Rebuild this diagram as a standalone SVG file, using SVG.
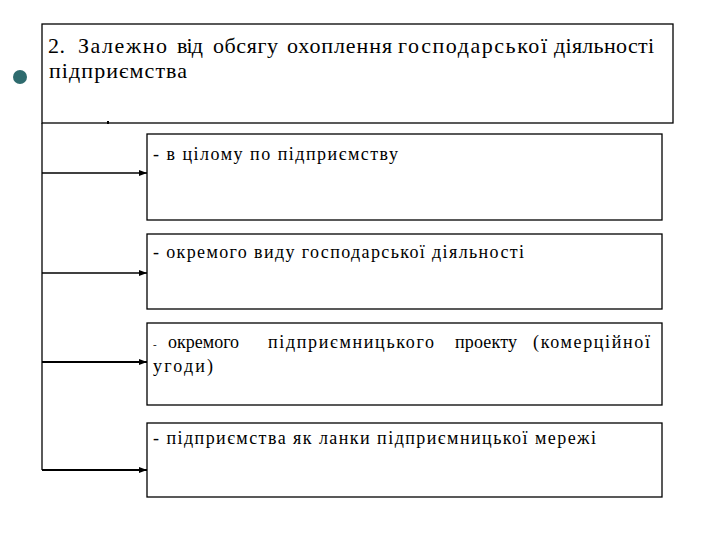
<svg xmlns="http://www.w3.org/2000/svg" width="720" height="540" viewBox="0 0 720 540">
<defs>
<style>
.box{fill:#fff;stroke:#000;stroke-width:1.3}
text{font-family:'Liberation Serif','Times New Roman','DejaVu Serif',serif;fill:#000}
.h{font-size:22px}
.b{font-size:18px}
.c{stroke:#000;fill:none}
</style>
<marker id="ah" viewBox="0 0 8 8" refX="8" refY="4" markerWidth="8" markerHeight="8" markerUnits="userSpaceOnUse" orient="auto">
<path d="M0,1 L8,4 L0,7 Z" fill="#000"/>
</marker>
</defs>
<rect width="720" height="540" fill="#fff"/>
<circle cx="20" cy="77" r="7" fill="#2e6b6e"/>
<g id="top">
<rect class="box" x="42" y="24" width="631" height="99"/>
<text class="h" y="53"><tspan x="48" textLength="17" lengthAdjust="spacing">2.</tspan><tspan x="78" textLength="89" lengthAdjust="spacing">Залежно</tspan><tspan x="177" textLength="26" lengthAdjust="spacing">від</tspan><tspan x="213" textLength="65" lengthAdjust="spacing">обсягу</tspan><tspan x="287" textLength="105" lengthAdjust="spacing">охоплення</tspan><tspan x="398" textLength="149" lengthAdjust="spacing">господарської</tspan><tspan x="554" textLength="100" lengthAdjust="spacing">діяльності</tspan></text>
<text class="h" x="49" y="78" textLength="138" lengthAdjust="spacing">підприємства</text>
</g>
<rect x="107" y="121" width="2" height="3" fill="#000"/>
<g id="connectors">
<path class="c" stroke-width="1.3" d="M42,123 V470"/>
<path class="c" stroke-width="1.3" d="M42,173 H147" marker-end="url(#ah)"/>
<path class="c" stroke-width="1.3" d="M42,273 H147" marker-end="url(#ah)"/>
<path class="c" stroke-width="2.2" d="M42,362 H147" marker-end="url(#ah)"/>
<path class="c" stroke-width="2.2" d="M42,470 H147" marker-end="url(#ah)"/>
</g>
<g id="n1">
<rect class="box" x="147" y="134" width="515" height="86"/>
<text class="b" x="153" y="160" textLength="245" lengthAdjust="spacing">- в цілому по підприємству</text>
</g>
<g id="n2">
<rect class="box" x="147" y="234" width="515" height="75"/>
<text class="b" x="153" y="258" textLength="371" lengthAdjust="spacing">- окремого виду господарської діяльності</text>
</g>
<g id="n3">
<rect class="box" x="147" y="323" width="515" height="82"/>
<text class="b" y="348"><tspan x="153" font-size="11">-</tspan><tspan x="168">окремого</tspan><tspan x="268" textLength="166" lengthAdjust="spacing">підприємницького</tspan><tspan x="455" textLength="62" lengthAdjust="spacing">проекту</tspan><tspan x="533" textLength="117" lengthAdjust="spacing">(комерційної</tspan></text>
<text class="b" x="153" y="372" textLength="60" lengthAdjust="spacing">угоди)</text>
</g>
<g id="n4">
<rect class="box" x="147" y="423" width="515" height="74"/>
<text class="b" x="153" y="444" textLength="443" lengthAdjust="spacing">- підприємства як ланки підприємницької мережі</text>
</g>
</svg>
